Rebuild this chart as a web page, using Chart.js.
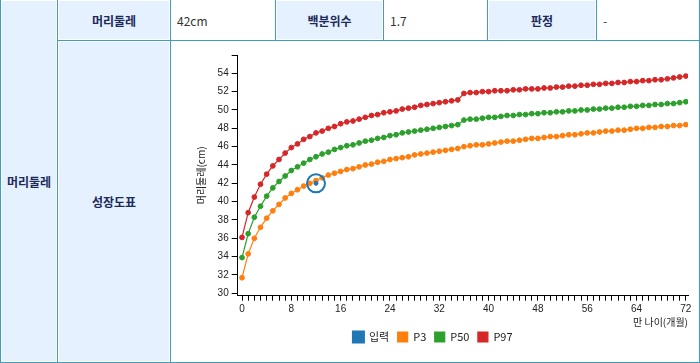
<!DOCTYPE html>
<html>
<head>
<meta charset="utf-8">
<script src="https://cdn.jsdelivr.net/npm/chart.js"></script>
<style>
  body { margin: 0; background: #fff; font-family: "Noto Sans CJK KR", "Noto Sans", sans-serif; }
  #wrap { position: relative; width: 700px; height: 363px; background: #fff; overflow: hidden; }
  .ln { position: absolute; background: #3d9fb8; }
  .c { position: absolute; box-sizing: border-box; display: flex; align-items: center; font-size: 12px; }
  .h { background: #e5f1fe; border: 1px solid #fff; justify-content: center; font-weight: bold; color: #1b2a5a; }
  .v { background: #fff; padding-left: 6px; color: #333; }
  #chartBox { position: absolute; left: 171px; top: 41px; width: 528px; height: 321px; }
</style>
</head>
<body>
<div id="wrap">
  <!-- table lines -->
  <div class="ln" style="left:0;top:0;width:1px;height:363px"></div>
  <div class="ln" style="left:57px;top:0;width:1px;height:363px"></div>
  <div class="ln" style="left:170px;top:0;width:1px;height:363px"></div>
  <div class="ln" style="left:275px;top:0;width:1px;height:41px"></div>
  <div class="ln" style="left:383px;top:0;width:1px;height:41px"></div>
  <div class="ln" style="left:487px;top:0;width:1px;height:41px"></div>
  <div class="ln" style="left:596px;top:0;width:1px;height:41px"></div>
  <div class="ln" style="left:699px;top:0;width:1px;height:363px"></div>
  <div class="ln" style="left:57px;top:40px;width:643px;height:1px"></div>
  <div class="ln" style="left:0;top:362px;width:700px;height:1px"></div>

  <div class="c h" style="left:1px;top:0;width:56px;height:362px">머리둘레</div>
  <div class="c h" style="left:58px;top:0;width:112px;height:40px">머리둘레</div>
  <div class="c v" style="left:171px;top:0;width:104px;height:40px">42cm</div>
  <div class="c h" style="left:276px;top:0;width:107px;height:40px">백분위수</div>
  <div class="c v" style="left:384px;top:0;width:103px;height:40px">1.7</div>
  <div class="c h" style="left:488px;top:0;width:108px;height:40px">판정</div>
  <div class="c v" style="left:597px;top:0;width:102px;height:40px">-</div>
  <div class="c h" style="left:58px;top:41px;width:112px;height:321px">성장도표</div>

  <div id="chartBox"><canvas id="head_chart" width="528" height="321"></canvas></div>
</div>

<script>
// age in months
const ageMonths = [0,1,2,3,4,5,6,7,8,9,10,11,12,13,14,15,16,17,18,19,20,21,22,23,24,
  25,26,27,28,29,30,31,32,33,34,35,36,37,38,39,40,41,42,43,44,45,46,47,48,
  49,50,51,52,53,54,55,56,57,58,59,60,61,62,63,64,65,66,67,68,69,70,71,72];

const p3 = [31.7,34.3,36.0,37.2,38.2,39.0,39.7,40.4,40.9,41.3,41.7,42.0,42.3,42.6,42.9,43.1,43.3,43.5,43.6,43.8,44.0,
  44.1,44.3,44.4,44.6,44.7,44.8,44.9,45.1,45.2,45.3,45.4,45.5,45.6,45.7,45.8,
  46.0,46.1,46.2,46.2,46.3,46.4,46.5,46.6,46.6,46.7,46.8,46.9,46.9,47.0,47.1,47.1,47.2,47.3,47.3,47.4,
  47.5,47.5,47.6,47.7,47.7,47.8,47.8,47.9,48.0,48.0,48.1,48.1,48.2,48.2,48.3,48.3,48.4];

const p50 = [33.9,36.5,38.3,39.5,40.6,41.5,42.2,42.8,43.4,43.8,44.2,44.6,44.9,45.2,45.4,45.7,45.9,46.1,46.2,46.4,46.6,
  46.7,46.9,47.0,47.2,47.3,47.5,47.6,47.7,47.8,47.9,48.0,48.1,48.2,48.3,48.4,
  48.9,49.0,49.0,49.1,49.2,49.2,49.3,49.4,49.4,49.5,49.5,49.6,49.6,49.7,49.7,49.8,49.8,49.9,49.9,50.0,
  50.0,50.1,50.1,50.2,50.2,50.3,50.3,50.4,50.4,50.5,50.5,50.6,50.6,50.7,50.7,50.8,50.9];

const p97 = [36.1,38.8,40.5,41.9,43.0,43.9,44.6,45.3,45.9,46.3,46.8,47.1,47.5,47.7,48.0,48.2,48.5,48.7,48.8,49.0,49.2,
  49.4,49.5,49.7,49.8,49.9,50.1,50.2,50.3,50.5,50.6,50.7,50.8,50.9,51.0,51.1,
  51.8,51.9,51.9,52.0,52.0,52.1,52.1,52.1,52.2,52.2,52.3,52.3,52.3,52.4,52.4,52.5,52.5,52.6,52.6,52.7,
  52.7,52.8,52.8,52.9,52.9,53.0,53.0,53.1,53.1,53.2,53.2,53.3,53.3,53.4,53.5,53.6,53.7];

// measured value
const inputAge = [12];
const inputValue = [42];

const seriesNames = ['입력', 'P3', 'P50', 'P97'];
const colors = ['#1f77b4', '#ff7f0e', '#2ca02c', '#d62728'];

function toPoints(xs, ys) {
  return xs.map((x, i) => ({x: x, y: ys[i]}));
}

function lineSet(label, data, color) {
  return {
    label: label,
    data: toPoints(ageMonths, data),
    borderColor: color,
    backgroundColor: color,
    borderWidth: 1.2,
    pointRadius: 2.4,
    pointBorderWidth: 1,
    pointHoverRadius: 3
  };
}

// circle around the measured point
const ringPlugin = {
  id: 'ring',
  afterDatasetsDraw(chart) {
    let meta = chart.getDatasetMeta(0);
    let ctx = chart.ctx;
    ctx.save();
    ctx.strokeStyle = colors[0];
    ctx.lineWidth = 2;
    meta.data.forEach(pt => {
      ctx.beginPath();
      ctx.arc(pt.x, pt.y, 9, 0, Math.PI * 2);
      ctx.stroke();
    });
    ctx.restore();
  }
};

const tickFont = {family: '"Liberation Sans", Arial, sans-serif', size: 10};
const krFont = {family: '"Noto Sans CJK KR", sans-serif', size: 10};

new Chart(document.getElementById('head_chart').getContext('2d'), {
  type: 'line',
  data: {
    datasets: [
      {
        label: seriesNames[0],
        data: toPoints(inputAge, inputValue),
        borderColor: colors[0],
        backgroundColor: colors[0],
        showLine: false,
        pointRadius: 2,
        pointBorderWidth: 1
      },
      lineSet(seriesNames[1], p3, colors[1]),
      lineSet(seriesNames[2], p50, colors[2]),
      lineSet(seriesNames[3], p97, colors[3])
    ]
  },
  options: {
    responsive: false,
    animation: false,
    layout: { padding: {left: 7, right: 11, top: 14, bottom: 9.5} },
    plugins: {
      legend: {
        position: 'bottom',
        labels: {
          boxWidth: 10,
          boxHeight: 10,
          padding: 8.5,
          color: '#222',
          font: {family: '"Noto Sans CJK KR", sans-serif', size: 11}
        }
      },
      tooltip: { enabled: false }
    },
    scales: {
      x: {
        type: 'linear',
        min: -0.7,
        max: 72.35,
        afterFit: s => { s.height = 27.3; },
        border: { display: true, color: '#000', width: 1 },
        grid: { drawOnChartArea: false, drawTicks: true, tickLength: 5, tickColor: '#000' },
        ticks: {
          stepSize: 1,
          includeBounds: false,
          autoSkip: false,
          maxRotation: 0,
          padding: 2.5,
          color: '#222',
          font: tickFont,
          callback: v => (Math.round(v) % 8 === 0 ? Math.round(v) : '')
        },
        title: {
          display: true,
          text: '만 나이(개월)',
          align: 'end',
          color: '#222',
          font: krFont,
          padding: {top: 0, bottom: -5.5}
        }
      },
      y: {
        min: 29.74,
        max: 56,
        afterFit: s => { s.width = 59.7; },
        border: { display: true, color: '#000', width: 1 },
        grid: { drawOnChartArea: false, drawTicks: true, tickLength: 6, tickColor: '#000' },
        ticks: {
          stepSize: 2,
          includeBounds: false,
          padding: 3,
          color: '#222',
          font: tickFont,
          callback: v => (v <= 54 ? v : '')
        },
        title: {
          display: true,
          text: '머리둘레(cm)',
          color: '#222',
          font: krFont,
          padding: {top: 17.7, bottom: 0}
        }
      }
    }
  },
  plugins: [ringPlugin]
});
</script>
</body>
</html>
